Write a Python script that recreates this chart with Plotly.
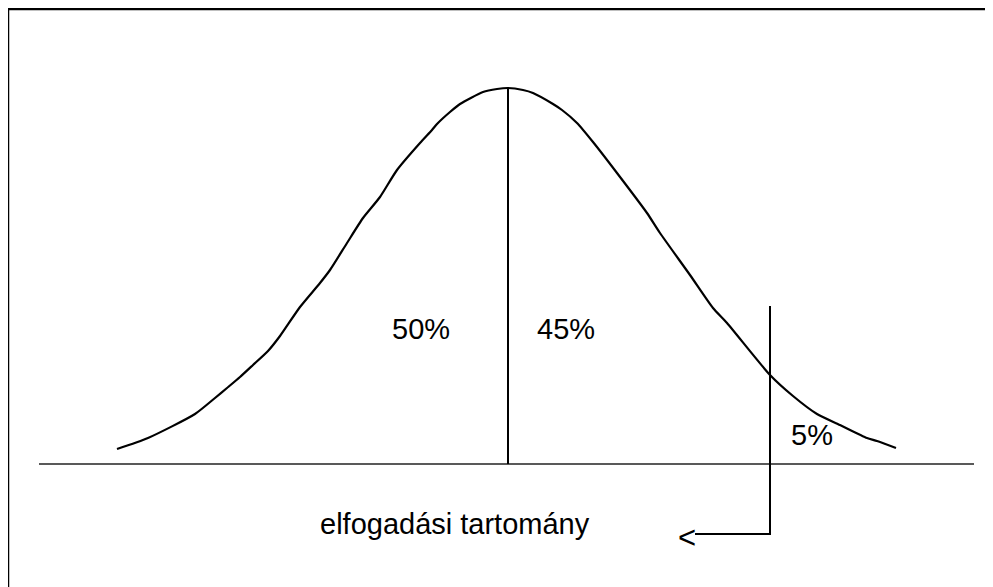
import plotly.graph_objects as go

# Hand-drawn bell curve (pixel-space coordinates)
curve_x = [117, 148, 195, 215, 227, 240, 253, 268, 280, 300, 320, 330, 347, 363, 380, 397, 420, 432, 437,
           450, 460, 483, 497, 508, 523, 533, 553, 562, 577, 593, 617, 647, 660, 690, 713, 727, 770, 793,
           817, 840, 867, 877, 896]
curve_y = [449, 438, 414, 398, 388, 377, 365, 351, 336, 307, 283, 270, 243, 218, 197, 170, 143, 130, 124,
           112, 104, 92, 89, 88, 90, 93, 104, 110, 123, 142, 173, 213, 233, 275, 308, 323, 375, 396,
           414, 425, 438, 441, 448]

baseline_x = [39, 974]
baseline_y = [464, 464]

mean_line_x = [508, 508]
mean_line_y = [88, 464]

cutoff_x = [770, 770, 695]
cutoff_y = [306, 534, 534]

labels = ["50%", "45%", "5%", "elfogadási tartomány", "<"]
label_x = [421, 566, 812, 455, 687]
label_y = [329, 329, 435, 524, 537]
label_size = [29, 29, 29, 29, 31]

W, H = 993, 587
OFF = 8  # page body margin

fig = go.Figure()
fig.add_trace(go.Scatter(x=curve_x, y=curve_y, mode="lines", line_shape="spline",
                         line=dict(color="black", width=2.2, smoothing=0.6), hoverinfo="skip"))
fig.add_trace(go.Scatter(x=baseline_x, y=baseline_y, mode="lines",
                         line=dict(color="#222222", width=1.3), hoverinfo="skip"))
fig.add_trace(go.Scatter(x=mean_line_x, y=mean_line_y, mode="lines",
                         line=dict(color="black", width=2), hoverinfo="skip"))
fig.add_trace(go.Scatter(x=cutoff_x, y=cutoff_y, mode="lines",
                         line=dict(color="black", width=2), hoverinfo="skip"))

for t, x, y, s in zip(labels, label_x, label_y, label_size):
    fig.add_annotation(x=x, y=y, text=t, showarrow=False,
                       font=dict(family="Liberation Sans, Arial, sans-serif", size=s, color="black"),
                       xanchor="center", yanchor="middle")

# outer frame (top and left edges visible)
fig.add_shape(type="line", x0=8, x1=W + OFF, y0=9, y1=9, line=dict(color="black", width=2.5))
fig.add_shape(type="line", x0=8, x1=8, y0=9, y1=H + OFF, line=dict(color="black", width=2.5))

fig.update_layout(
    width=W, height=H,
    margin=dict(l=0, r=0, t=0, b=0),
    paper_bgcolor="white", plot_bgcolor="white",
    showlegend=False,
    xaxis=dict(range=[OFF, W + OFF], visible=False, fixedrange=True),
    yaxis=dict(range=[H + OFF, OFF], visible=False, fixedrange=True),
)

fig.write_html("out.html")
